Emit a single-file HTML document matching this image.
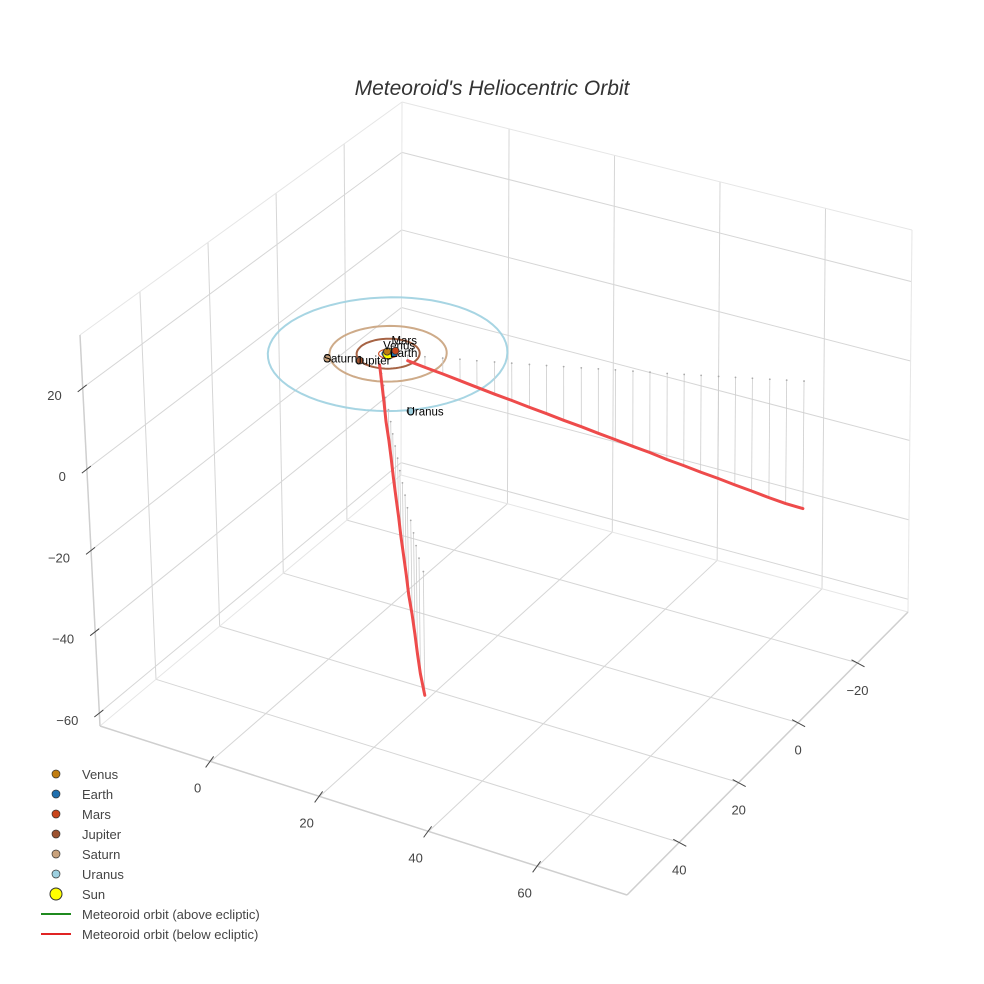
<!DOCTYPE html>
<html><head><meta charset="utf-8">
<style>
html,body{margin:0;padding:0;background:#fff;}
svg{display:block;font-family:"Liberation Sans",Arial,sans-serif;}
</style></head>
<body>
<svg id="chart" width="984" height="984" viewBox="0 0 984 984">
<rect width="984" height="984" fill="#fff"/>
<text x="492" y="95" text-anchor="middle" font-size="21" font-style="italic" fill="#333">Meteoroid's Heliocentric Orbit</text>
<g id="grid"></g>
<g id="ticks"></g>
<g id="orbits"></g>
<g id="stems"></g>
<g id="meteor"></g>
<g id="planets"></g>
<g id="legend"></g>
</svg>
<script>
// ---- data ----
const xTicks = [0, 20, 40, 60];
const yTicks = [-20, 0, 20, 40];
const zTicks = [-60, -40, -20, 0, 20];
const xRange = [-20.3, 76.4];
const yRange = [-37, 57.6];
const zRange = [-63.2, 33];

const planetNames = ["Venus", "Earth", "Mars", "Jupiter", "Saturn", "Uranus"];
const planetColors = ["#c17d11", "#1f6fae", "#c8451b", "#9c5230", "#c9a27c", "#9dd0e0"];
const orbitRadii = [0.72, 1.0, 1.52, 5.0, 9.3, 19.0];
const planetX = [-0.5, 0.7, 0.5, -2.7, -7.5, 12.8];
const planetY = [-0.5, -0.6, -1.4, 4.2, 6.2, 14.6];

const meteorAX = [3.0,5.6,8.3,10.9,13.5,16.2,18.8,21.5,24.1,26.7,29.4,32.0,34.6,37.3,39.9,42.6,45.2,47.8,50.5,53.1,55.7,58.4,61.0,63.7];
const meteorAY = [-1.0,-2.0,-3.0,-4.0,-4.9,-5.9,-6.9,-7.9,-8.9,-9.9,-10.9,-11.9,-12.9,-13.9,-14.9,-15.8,-16.8,-17.8,-18.8,-19.8,-20.8,-21.8,-22.8,-23.8];
const meteorAZ = [-1.3,-2.7,-4.0,-5.4,-6.7,-8.1,-9.4,-10.8,-12.1,-13.5,-14.8,-16.2,-17.5,-18.9,-20.2,-21.6,-22.9,-24.3,-25.6,-27.0,-28.3,-29.7,-31.0,-32.0];
const meteorBX = [0.2,2.5,4.8,7.1,9.5,11.8,14.1,16.4,18.7,21.0,23.3,25.6,27.9,30.3,32.6,34.9,37.2,39.8];
const meteorBY = [3.0,6.2,9.4,12.7,15.9,19.1,22.4,25.6,28.8,32.1,35.3,38.5,41.8,45.0,48.2,51.5,54.7,58.0];
const meteorBZ = [-0.8,-2.5,-4.2,-6.0,-7.7,-9.4,-11.1,-12.8,-14.5,-16.2,-17.9,-19.6,-21.3,-23.0,-24.7,-26.4,-28.1,-30.0];

// ---- projection (scene box corners on screen) ----
const C = {
  B:[100,726], G:[627,895], D:[401,475], F:[908,612],
  A:[80,335],  H:[632,495], Cc:[402,102], E:[912,230]
};
function lerp(p,q,t){return [p[0]+(q[0]-p[0])*t, p[1]+(q[1]-p[1])*t];}
function proj(x,y,z){
  const u=(x-xRange[0])/(xRange[1]-xRange[0]);
  const v=(y-yRange[0])/(yRange[1]-yRange[0]);
  const w=(z-zRange[0])/(zRange[1]-zRange[0]);
  const bot=lerp(lerp(C.D,C.F,u), lerp(C.B,C.G,u), v);
  const top=lerp(lerp(C.Cc,C.E,u), lerp(C.A,C.H,u), v);
  return lerp(bot,top,w);
}
const NS="http://www.w3.org/2000/svg";
function mk(tag,attrs,parent){const e=document.createElementNS(NS,tag);for(const k in attrs)e.setAttribute(k,attrs[k]);parent.appendChild(e);return e;}
function line(p,q,stroke,sw,parent){return mk('line',{x1:p[0],y1:p[1],x2:q[0],y2:q[1],stroke:stroke,'stroke-width':sw},parent);}

const grid=document.getElementById('grid');
const GC="#d6d6d6";
xTicks.forEach(x=>{const l=line(proj(x,yRange[0],zRange[0]),proj(x,yRange[1],zRange[0]),GC,1,grid);

});
yTicks.forEach(y=>{const l=line(proj(xRange[0],y,zRange[0]),proj(xRange[1],y,zRange[0]),GC,1,grid);

});
yTicks.forEach(y=>{const l=line(proj(xRange[0],y,zRange[0]),proj(xRange[0],y,zRange[1]),GC,1,grid);

});
zTicks.forEach(z=>{const l=line(proj(xRange[0],yRange[1],z),proj(xRange[0],yRange[0],z),GC,1,grid);

});
xTicks.forEach(x=>{const l=line(proj(x,yRange[0],zRange[0]),proj(x,yRange[0],zRange[1]),GC,1,grid);

});
zTicks.forEach(z=>{const l=line(proj(xRange[0],yRange[0],z),proj(xRange[1],yRange[0],z),GC,1,grid);

});
[[C.B,C.G],[C.G,C.F],[C.B,C.D],[C.D,C.F],[C.A,C.B],[C.A,C.Cc],[C.Cc,C.E],[C.E,C.F],[C.Cc,C.D]].forEach(e=>{
  const l=line(e[0],e[1],"#e6e6e6",1,grid);
  
  
});
[[C.B,C.G],[C.G,C.F],[C.A,C.B]].forEach(e=>{
  const l=line(e[0],e[1],"#cfcfcf",1.5,grid);
  
  
});

const tk=document.getElementById('ticks');
function fmt(v){return v<0?"\u2212"+Math.abs(v):String(v);}
zTicks.forEach(z=>{const p=proj(xRange[0],yRange[1],z);
  const l=line([p[0]+4,p[1]-3],[p[0]-5,p[1]+4],"#444",1,tk);
  
  
  const t=mk('text',{x:p[0]-21,y:p[1]+12,'text-anchor':'end','font-size':13,fill:'#444'},tk);t.textContent=fmt(z);
  
  });
xTicks.forEach(x=>{const p=proj(x,yRange[1],zRange[0]);
  const l=line([p[0]+3,p[1]-5],[p[0]-5,p[1]+6],"#444",1,tk);
  
  
  const t=mk('text',{x:p[0]-13,y:p[1]+31,'text-anchor':'middle','font-size':13,fill:'#444'},tk);t.textContent=fmt(x);
  
  });
yTicks.forEach(y=>{const p=proj(xRange[1],y,zRange[0]);
  const l=line([p[0]-6,p[1]-3],[p[0]+7,p[1]+4],"#444",1,tk);
  
  
  const t=mk('text',{x:p[0],y:p[1]+32,'text-anchor':'middle','font-size':13,fill:'#444'},tk);t.textContent=fmt(y);
  
  });

const og=document.getElementById('orbits');
orbitRadii.forEach((r,i)=>{
  let d="";
  for(let k=0;k<=72;k++){const a=k/72*2*Math.PI;const p=proj(r*Math.cos(a),r*Math.sin(a),0);d+=(k?"L":"M")+p[0].toFixed(1)+","+p[1].toFixed(1);}
  const pth=mk('path',{d:d,fill:'none',stroke:planetColors[i],'stroke-width':i>=3?2:1.2,opacity:0.9},og);
  
  
});

const sg=document.getElementById('stems');
function stems(X,Y,Z){X.forEach((x,i)=>{const a=proj(x,Y[i],0),b=proj(x,Y[i],Z[i]);
  const l=line(a,b,"#cdcdcd",0.8,sg);
  
  
  const c=mk('circle',{cx:a[0],cy:a[1],r:0.9,fill:'#aaa'},sg);
  
  });}
stems(meteorAX,meteorAY,meteorAZ);
stems(meteorBX,meteorBY,meteorBZ);

const mg=document.getElementById('meteor');
function path(X,Y,Z){let d="";X.forEach((x,i)=>{const p=proj(x,Y[i],Z[i]);d+=(i?"L":"M")+p[0].toFixed(1)+","+p[1].toFixed(1);});return d;}
const pa=mk('path',{d:path(meteorAX,meteorAY,meteorAZ),fill:'none',stroke:'#ee4b4b','stroke-width':3,'stroke-linecap':'round','stroke-linejoin':'round'},mg);


const pb=mk('path',{d:path(meteorBX,meteorBY,meteorBZ),fill:'none',stroke:'#ee4b4b','stroke-width':3,'stroke-linecap':'round','stroke-linejoin':'round'},mg);



const pg=document.getElementById('planets');
const sp=proj(0,0,0);
const sun=mk('circle',{cx:sp[0],cy:sp[1],r:5.5,fill:'#ffff00',stroke:'#333','stroke-width':1},pg);


planetNames.forEach((n,i)=>{const p=proj(planetX[i],planetY[i],0);
  const c=mk('circle',{cx:p[0],cy:p[1],r:3.5,fill:planetColors[i],stroke:'#333','stroke-width':0.8},pg);
  
  
  const dy=(n==="Mars")?-6:(n==="Venus"?-2:4);
  const t=mk('text',{x:p[0]-4,y:p[1]+dy,'font-size':11.5,fill:'#000'},pg);t.textContent=n;
  
  });

const lg=document.getElementById('legend');
const legendNames=planetNames.concat(["Sun","Meteoroid orbit (above ecliptic)","Meteoroid orbit (below ecliptic)"]);
legendNames.forEach((n,i)=>{
  const y=774+i*20;
  const g=mk('g',{},lg);
  
  
  if(i<6){const c=mk('circle',{cx:56,cy:y,r:4,fill:planetColors[i],stroke:'#333','stroke-width':0.7},g);
    
    }
  else if(i===6){const c=mk('circle',{cx:56,cy:y,r:6,fill:'#ffff00',stroke:'#333','stroke-width':1},g);
    
    }
  else{const l=line([41,y],[71,y],i===7?'#1f8a1f':'#e02424',2,g);
    
    }
  const t=mk('text',{x:82,y:y+5,'font-size':13,fill:'#444'},g);t.textContent=n;
  
  
});
</script>
</body></html>
